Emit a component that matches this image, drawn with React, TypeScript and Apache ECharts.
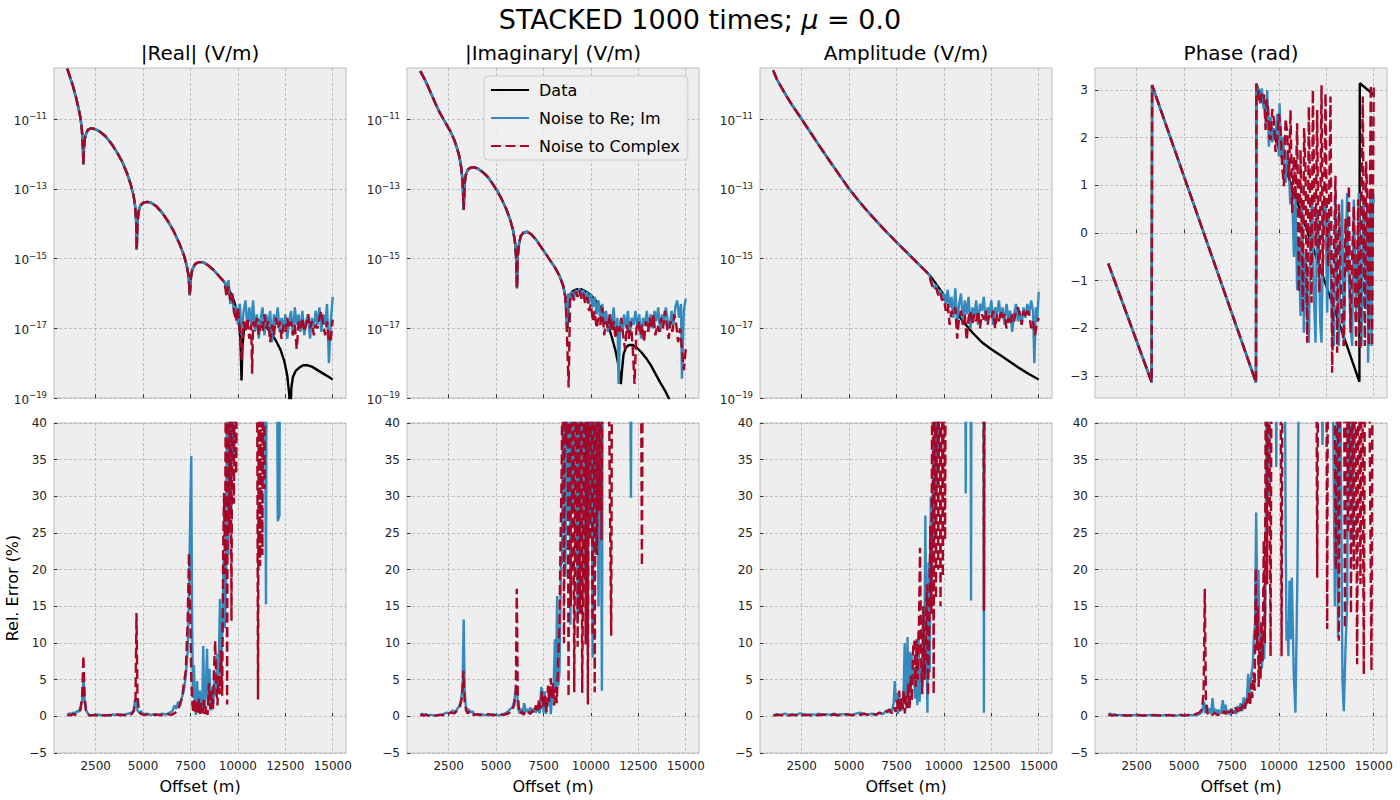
import React, { useEffect, useRef } from "react";
import * as echarts from "echarts";

type Pt = [number, number];

// ---------- texts ----------
const suptitleMain = "STACKED 1000 times; ";
const suptitleMu = "μ";
const suptitleTail = " = 0.0";
const panelTitles = ["|Real| (V/m)", "|Imaginary| (V/m)", "Amplitude (V/m)", "Phase (rad)"];
const seriesNames = ["Data", "Noise to Re; Im", "Noise to Complex"];
const offsetLabel = "Offset (m)";
const errorLabel = "Rel. Error (%)";

// ---------- ticks ----------
const offsetTicks = [2500, 5000, 7500, 10000, 12500, 15000];
const logTicks = [-19, -17, -15, -13, -11]; // log10 of V/m
const phaseTicks = [-3, -2, -1, 0, 1, 2, 3];
const errorTicks = [-5, 0, 5, 10, 15, 20, 25, 30, 35, 40];

// ---------- |Real| (log10 V/m) ----------
const realSmoothLog: Pt[] = [
  [1000, -9.55], [1150, -9.8], [1300, -10.05], [1450, -10.35], [1600, -10.7], [1700, -10.98],
  [1770, -11.3], [1820, -11.75], [1850, -12.3], [1880, -11.85], [1930, -11.55], [2000, -11.4],
  [2100, -11.3], [2250, -11.26], [2450, -11.28], [2700, -11.35], [3000, -11.48], [3300, -11.68],
  [3600, -11.93], [3900, -12.22], [4150, -12.55], [4350, -12.88], [4500, -13.2], [4580, -13.5],
  [4630, -13.9], [4665, -14.75], [4700, -14.0], [4760, -13.65], [4850, -13.48], [5000, -13.4],
  [5200, -13.37], [5400, -13.39], [5700, -13.5], [6000, -13.68], [6300, -13.92], [6600, -14.2],
  [6900, -14.55], [7150, -14.9], [7300, -15.2], [7400, -15.5], [7460, -16.05], [7520, -15.55],
  [7600, -15.3], [7750, -15.15], [7950, -15.1], [8150, -15.1], [8400, -15.18], [8700, -15.32],
  [9000, -15.5], [9250, -15.65],
];
const realDataTailLog: Pt[] = [
  [9500, -15.85], [9750, -16.15], [9900, -16.4], [10050, -16.8], [10130, -17.3], [10190, -18.5],
  [10240, -17.5], [10320, -17.05], [10450, -16.85], [10600, -16.76], [10800, -16.72], [11000, -16.75],
  [11250, -16.82], [11500, -16.95], [11750, -17.15], [12000, -17.35], [12250, -17.62], [12450, -17.95],
  [12600, -18.35], [12700, -18.85], [12760, -19.6], [12820, -18.7], [12900, -18.4], [13050, -18.22],
  [13250, -18.12], [13450, -18.06], [13650, -18.06], [13900, -18.1], [14200, -18.2], [14500, -18.3],
  [14800, -18.4], [15000, -18.47],
];
const realBlueTailLog: Pt[] = [
  [9300, -15.66], [9400, -15.9], [9500, -15.62], [9600, -16.3], [9700, -16.05], [9800, -16.6],
  [9900, -16.35], [10000, -16.9], [10100, -16.3], [10200, -17.2], [10300, -16.5], [10400, -16.2],
  [10500, -17.0], [10600, -16.4], [10700, -16.9], [10800, -16.2], [10900, -17.1], [11000, -16.6],
  [11100, -17.3], [11200, -16.7], [11300, -16.4], [11400, -17.2], [11500, -16.6], [11600, -17.0],
  [11700, -16.5], [11800, -17.4], [11900, -16.6], [12000, -16.9], [12100, -16.4], [12200, -17.1],
  [12300, -16.7], [12400, -17.0], [12500, -16.6], [12600, -17.3], [12700, -16.8], [12800, -16.5],
  [12900, -17.2], [13000, -16.4], [13100, -16.9], [13200, -16.6], [13300, -17.1], [13400, -16.5],
  [13500, -17.2], [13600, -16.8], [13700, -16.6], [13800, -17.3], [13900, -16.7], [14000, -17.0],
  [14100, -16.5], [14200, -16.9], [14300, -16.4], [14400, -17.1], [14500, -16.6], [14600, -16.9],
  [14700, -16.3], [14800, -18.0], [14900, -16.8], [15000, -16.1],
];
const realRedTailLog: Pt[] = [
  [9300, -15.7], [9400, -16.1], [9500, -15.8], [9600, -16.2], [9700, -16.0], [9800, -16.5],
  [9900, -16.8], [10000, -16.4], [10100, -17.0], [10200, -17.9], [10300, -16.8], [10400, -17.1],
  [10500, -16.7], [10600, -17.3], [10700, -16.9], [10750, -18.3], [10800, -16.8], [10900, -17.0],
  [11000, -16.7], [11100, -17.2], [11200, -16.9], [11300, -17.1], [11400, -16.6], [11500, -17.0],
  [11600, -16.8], [11700, -17.4], [11800, -16.9], [11900, -17.2], [12000, -16.7], [12100, -17.0],
  [12200, -16.8], [12300, -17.3], [12400, -16.9], [12500, -17.1], [12600, -16.7], [12700, -17.0],
  [12800, -16.8], [12900, -17.2], [13000, -16.9], [13100, -17.6], [13200, -16.8], [13300, -17.0],
  [13400, -16.7], [13500, -17.1], [13600, -16.9], [13700, -16.6], [13800, -17.0], [13900, -16.8],
  [14000, -17.2], [14100, -16.9], [14200, -17.0], [14300, -16.7], [14400, -16.5], [14500, -16.9],
  [14600, -17.2], [14700, -16.8], [14800, -17.4], [14900, -17.3], [15000, -16.75],
];

// ---------- |Imaginary| (log10 V/m) ----------
const imagSmoothLog: Pt[] = [
  [1000, -9.62], [1200, -9.82], [1400, -10.05], [1600, -10.3], [1800, -10.55], [2000, -10.78],
  [2200, -10.98], [2400, -11.17], [2600, -11.36], [2800, -11.6], [2950, -11.85], [3050, -12.05],
  [3150, -12.35], [3230, -12.75], [3290, -13.6], [3340, -12.85], [3400, -12.6], [3500, -12.45],
  [3650, -12.39], [3850, -12.38], [4050, -12.42], [4300, -12.52], [4550, -12.65], [4800, -12.84],
  [5050, -13.05], [5300, -13.3], [5550, -13.6], [5750, -13.9], [5900, -14.2], [6000, -14.55],
  [6060, -15.0], [6100, -15.85], [6140, -14.95], [6200, -14.6], [6300, -14.35], [6450, -14.25],
  [6650, -14.23], [6850, -14.3], [7100, -14.45], [7350, -14.65], [7600, -14.85], [7850, -15.05],
  [8100, -15.25], [8350, -15.5], [8550, -15.8], [8650, -16.1],
];
const imagDataTailLog: Pt[] = [
  [8700, -16.5], [8760, -17.0], [8810, -16.4], [8900, -16.05], [9050, -15.93], [9250, -15.88],
  [9500, -15.88], [9750, -15.95], [10000, -16.05], [10250, -16.2], [10500, -16.4], [10700, -16.6],
  [10900, -16.9], [11100, -17.25], [11300, -17.65], [11450, -18.05], [11580, -18.6], [11640, -18.2],
  [11720, -17.75], [11850, -17.55], [12000, -17.48], [12200, -17.48], [12400, -17.55], [12650, -17.68],
  [12900, -17.85], [13150, -18.05], [13400, -18.3], [13650, -18.55], [13900, -18.78], [14100, -19.0],
  [14300, -19.3], [14600, -19.7], [15000, -20.3],
];
const imagBlueTailLog: Pt[] = [
  [8700, -16.3], [8740, -16.92], [8800, -16.0], [8900, -16.2], [9000, -15.95], [9100, -16.15],
  [9200, -15.9], [9300, -16.0], [9400, -15.85], [9500, -16.1], [9600, -15.9], [9700, -16.2],
  [9800, -15.95], [9900, -16.3], [10000, -16.0], [10100, -16.4], [10200, -16.1], [10300, -16.6],
  [10400, -16.2], [10500, -16.8], [10600, -16.3], [10700, -16.9], [10800, -16.5], [10900, -17.1],
  [11000, -16.6], [11100, -16.9], [11200, -16.4], [11300, -17.2], [11400, -16.7], [11460, -18.6],
  [11550, -16.8], [11650, -17.1], [11750, -16.6], [11850, -17.0], [11950, -16.5], [12050, -17.2],
  [12150, -16.7], [12250, -16.9], [12350, -16.5], [12450, -17.0], [12550, -16.6], [12650, -17.3],
  [12750, -16.7], [12850, -16.9], [12950, -16.5], [13050, -17.1], [13150, -16.6], [13250, -17.0],
  [13350, -16.5], [13450, -16.8], [13550, -16.4], [13650, -17.1], [13750, -16.6], [13850, -16.9],
  [13950, -16.4], [14050, -16.8], [14150, -17.0], [14250, -16.5], [14350, -16.9], [14450, -16.4],
  [14550, -16.2], [14650, -16.7], [14750, -16.3], [14800, -18.45], [14900, -16.5], [15000, -16.15],
];
const imagRedTailLog: Pt[] = [
  [8700, -16.6], [8825, -18.7], [8900, -16.2], [9000, -16.0], [9100, -16.2], [9200, -15.95],
  [9300, -16.1], [9400, -15.9], [9500, -16.15], [9600, -16.0], [9700, -16.3], [9800, -16.1],
  [9900, -16.5], [10000, -16.3], [10100, -16.8], [10200, -16.5], [10300, -17.0], [10400, -16.7],
  [10500, -16.9], [10600, -16.4], [10700, -17.2], [10800, -16.8], [10900, -17.0], [11000, -16.6],
  [11100, -17.1], [11200, -16.8], [11300, -17.3], [11400, -16.9], [11500, -17.1], [11600, -16.7],
  [11700, -17.2], [11800, -17.6], [11900, -16.9], [12000, -17.3], [12100, -16.8], [12200, -17.5],
  [12300, -18.6], [12400, -17.0], [12500, -16.8], [12600, -17.2], [12700, -16.9], [12800, -17.4],
  [12900, -16.8], [13000, -17.1], [13100, -16.7], [13200, -17.0], [13300, -16.6], [13400, -17.2],
  [13500, -16.9], [13600, -17.1], [13700, -16.7], [13800, -17.0], [13900, -16.5], [14000, -16.9],
  [14100, -17.3], [14200, -16.8], [14300, -17.1], [14400, -16.6], [14500, -16.9], [14600, -17.4],
  [14700, -17.0], [14800, -17.6], [14900, -18.2], [15000, -17.6],
];

// ---------- Amplitude (log10 V/m) ----------
const ampSmoothLog: Pt[] = [
  [1000, -9.6], [1100, -9.74], [1200, -9.86], [1400, -10.06], [1700, -10.34], [2000, -10.6],
  [2500, -11.0], [3000, -11.41], [3500, -11.82], [4000, -12.22], [4500, -12.61], [5000, -13.0],
  [5500, -13.34], [6000, -13.66], [6500, -13.96], [7000, -14.25], [7500, -14.53], [8000, -14.8],
  [8500, -15.07], [9000, -15.34], [9250, -15.48],
];
const ampDataTailLog: Pt[] = [
  [9500, -15.66], [10000, -16.04], [10500, -16.43], [11000, -16.8], [11500, -17.12], [12000, -17.4],
  [12500, -17.6], [13000, -17.78], [13500, -17.97], [14000, -18.15], [14500, -18.32], [15000, -18.47],
];
const ampBlueTailLog: Pt[] = [
  [9300, -15.6], [9400, -15.75], [9500, -15.85], [9600, -15.75], [9700, -16.0], [9800, -15.9],
  [9900, -16.1], [10000, -16.0], [10100, -16.3], [10200, -15.9], [10300, -16.4], [10400, -16.1],
  [10500, -16.7], [10600, -15.85], [10700, -16.9], [10800, -16.3], [10900, -16.0], [11000, -16.8],
  [11100, -16.2], [11200, -16.6], [11300, -16.1], [11400, -17.0], [11500, -16.4], [11600, -16.7],
  [11700, -16.2], [11800, -16.9], [11900, -16.3], [12000, -16.5], [12100, -16.1], [12200, -16.8],
  [12300, -16.4], [12400, -16.6], [12500, -16.2], [12600, -16.9], [12700, -16.4], [12800, -16.6],
  [12900, -16.2], [13000, -16.7], [13100, -16.4], [13200, -16.9], [13300, -16.3], [13400, -16.7],
  [13500, -16.5], [13600, -17.1], [13700, -16.6], [13800, -16.3], [13900, -16.8], [14000, -16.5],
  [14100, -16.9], [14200, -16.4], [14300, -16.7], [14400, -16.3], [14500, -16.6], [14600, -16.2],
  [14700, -16.5], [14770, -18.0], [14850, -16.4], [14920, -16.8], [15000, -15.95],
];
const ampRedTailLog: Pt[] = [
  [9300, -15.65], [9400, -15.8], [9500, -15.9], [9600, -15.85], [9700, -16.05], [9800, -15.95],
  [9900, -16.2], [10000, -16.15], [10100, -16.5], [10200, -16.3], [10300, -16.9], [10400, -16.5],
  [10500, -16.6], [10600, -16.4], [10700, -17.3], [10800, -16.7], [10900, -16.5], [11000, -16.9],
  [11100, -16.6], [11200, -17.35], [11300, -16.7], [11400, -16.5], [11500, -16.9], [11600, -16.6],
  [11700, -16.8], [11800, -16.5], [11900, -17.0], [12000, -16.6], [12100, -16.75], [12200, -16.5],
  [12300, -16.9], [12400, -16.6], [12500, -16.7], [12600, -16.5], [12700, -17.0], [12800, -16.6],
  [12900, -16.8], [13000, -16.5], [13100, -16.7], [13200, -16.6], [13300, -17.0], [13400, -16.7],
  [13500, -16.9], [13600, -16.6], [13700, -16.8], [13800, -16.5], [13900, -16.4], [14000, -16.6],
  [14100, -16.9], [14200, -16.5], [14300, -16.7], [14400, -16.5], [14500, -16.6], [14600, -17.0],
  [14700, -16.8], [14800, -17.2], [14900, -16.9], [15000, -16.7],
];

// ---------- Phase (rad) ----------
const phaseSmooth: Pt[] = [
  [1000, -0.64], [3290, -3.13], [3310, 3.1], [8790, -3.13], [8810, 3.13],
];
const phaseDataTail: Pt[] = [
  [14245, -3.12], [14265, 3.14], [15000, 2.9],
];
const phaseBlueTail: Pt[] = [
  [8900, 3.0], [9000, 2.8], [9100, 3.03], [9200, 2.6], [9260, 2.72], [9330, 2.2], [9383, 3.0],
  [9470, 1.81], [9560, 2.44], [9650, 1.9], [9735, 2.2], [9820, 2.0], [9910, 2.5], [10000, 1.6],
  [10033, 2.72], [10120, 1.6], [10225, 2.02], [10300, 1.2], [10350, 1.05], [10450, 1.7], [10525, 1.3],
  [10600, 0.6], [10700, 0.84], [10790, -0.5], [10876, 0.77], [10960, -1.2], [11050, -0.28],
  [11140, -1.74], [11228, 0.56], [11315, -2.09], [11403, -0.42], [11490, -1.6], [11578, -2.3],
  [11665, 0.2], [11754, 0.7], [11842, -1.25], [11930, -2.3], [12018, 0.5], [12105, -0.28],
  [12180, -1.9], [12246, -2.3], [12350, 0.6], [12457, 0.7], [12545, -1.67], [12630, 0.3],
  [12720, -0.63], [12808, -2.1], [12896, -2.37], [12984, 0.84], [13072, -0.9], [13160, -2.37],
  [13250, -0.4], [13335, 0.7], [13423, -2.37], [13510, -0.6], [13599, 0.84], [13686, -0.91],
  [13774, -1.9], [13862, -2.37], [13950, 0.7], [14010, -0.5], [14072, -1.67], [14140, -0.8],
  [14213, 0.84], [14290, -1.0], [14353, -2.37], [14420, -0.3], [14476, 0.7], [14540, -0.5],
  [14599, -1.6], [14650, 0.5], [14705, -2.72], [14775, -0.14], [14830, 0.8], [14880, -2.37],
  [14940, -0.2], [14968, 0.84], [15000, 0.63],
];
const phaseRedTail: Pt[] = [
  [8900, 2.96], [9000, 2.7], [9100, 2.95], [9208, 2.93], [9296, 2.16], [9360, 2.8], [9436, 2.58],
  [9500, 2.0], [9560, 1.95], [9650, 2.6], [9735, 2.37], [9820, 1.7], [9910, 1.92], [10000, 2.5],
  [10086, 2.23], [10170, 1.4], [10260, 0.98], [10350, 2.4], [10437, 2.09], [10530, 1.1], [10612, 2.58],
  [10700, 0.42], [10790, 1.6], [10876, 0.7], [10960, 2.3], [11051, -1.25], [11140, 1.74], [11200, 0.2],
  [11262, -1.67], [11330, 2.2], [11403, 1.32], [11490, -2.3], [11578, 2.65], [11650, 0.4],
  [11720, -1.46], [11789, 3.0], [11860, 0.9], [11930, -0.28], [12018, 2.58], [12080, -0.6],
  [12141, -1.25], [12246, 3.1], [12310, -0.9], [12370, 0.14], [12457, 2.93], [12530, 0.2],
  [12597, -0.7], [12720, 2.86], [12808, -2.93], [12896, -0.56], [12980, 1.2], [13072, -2.51],
  [13160, 0.6], [13247, -0.91], [13340, -2.0], [13423, -2.37], [13510, 0.3], [13599, -0.84],
  [13690, 1.0], [13774, -2.09], [13860, -0.5], [13950, 0.56], [14010, -1.2], [14072, -2.37],
  [14178, 0.7], [14240, -1.5], [14300, -2.44], [14360, 0.9], [14423, 2.86], [14480, -0.5],
  [14529, -2.37], [14600, 1.5], [14652, 0.84], [14700, -1.2], [14740, -2.37], [14800, 1.0],
  [14845, 3.1], [14880, -0.4], [14915, -2.37], [14960, 0.8], [15000, 3.07],
];

// ---------- relative errors (%) ----------
const realErrBlue: Pt[] = [
  [1000, 0.2], [1100, 0.4], [1200, 0.3], [1300, 0.5], [1400, 0.4], [1500, 0.7], [1600, 0.6],
  [1700, 1.3], [1780, 2.0], [1860, 5.1], [1920, 1.8], [2000, 0.8], [2100, 0.3], [2200, 0.2],
  [2400, 0.15], [2600, 0.25], [2800, 0.15], [3000, 0.2], [3200, 0.1], [3400, 0.25], [3600, 0.2],
  [3800, 0.3], [4000, 0.2], [4200, 0.35], [4400, 0.5], [4500, 0.8], [4580, 2.3], [4640, 2.5],
  [4700, 0.8], [4800, 0.5], [4900, 0.7], [5000, 0.3], [5200, 0.35], [5400, 0.2], [5600, 0.3],
  [5800, 0.2], [6000, 0.35], [6200, 0.25], [6400, 0.5], [6550, 0.7], [6650, 1.5], [6750, 1.0],
  [6850, 2.0], [6950, 1.4], [7050, 2.6], [7150, 3.5], [7250, 5.5], [7350, 9], [7430, 18],
  [7500, 30], [7540, 35.5], [7580, 14], [7630, 2.5], [7680, 7.0], [7740, 1.0], [7790, 0.2],
  [7850, 4.8], [7920, 1.0], [7990, 3.5], [8050, 0.8], [8120, 1.5], [8170, 9.6], [8230, 1.0],
  [8300, 3.0], [8370, 9.2], [8430, 1.4], [8500, 6.5], [8570, 0.8], [8640, 4.0], [8700, 1.7],
  [8780, 6.0], [8850, 2.8], [8920, 8.5], [8980, 5.0], [9050, 16.0], [9110, 5.8], [9180, 12.0],
  [9250, 22.0], [9310, 12], [9380, 19], [9440, 60], [9500, 22], [9570, 60], [9640, 28],
  [9700, 60], [9780, 35], [9850, 60], [9920, 70], [10300, 80], [10600, 70], [10900, 80],
  [11100, 60], [11300, 70], [11430, 45], [11480, 15.3], [11520, 60], [11800, 80], [12050, 60],
  [12100, 26.6], [12190, 27.4], [12230, 70], [12600, 80], [13000, 70], [13500, 80], [14000, 70],
  [14500, 80], [15000, 70],
];
const realErrRed: Pt[] = [
  [1000, 0.1], [1100, 0.2], [1200, 0.15], [1300, 0.3], [1400, 0.2], [1500, 0.4], [1600, 0.5],
  [1700, 0.9], [1790, 3.0], [1850, 8.3], [1900, 3.5], [1980, 0.8], [2080, 0.2], [2200, 0.1],
  [2400, 0.2], [2600, 0.1], [2800, 0.2], [3000, 0.1], [3200, 0.2], [3400, 0.1], [3600, 0.25],
  [3800, 0.15], [4000, 0.2], [4200, 0.1], [4400, 0.3], [4520, 0.8], [4600, 2.5], [4650, 14.1],
  [4700, 3.0], [4780, 0.6], [4900, 0.3], [5100, 0.2], [5300, 0.3], [5500, 0.2], [5700, 0.25],
  [5900, 0.15], [6100, 0.2], [6300, 0.3], [6500, 0.2], [6700, 0.5], [6850, 0.9], [6950, 1.8],
  [7050, 2.5], [7150, 4.5], [7250, 6.2], [7350, 13], [7420, 22.3], [7480, 15], [7540, 5],
  [7600, 1.6], [7650, 0.5], [7710, 2.4], [7770, 0.3], [7830, 2.2], [7890, 0.5], [7950, 2.4],
  [8010, 0.2], [8070, 1.8], [8140, 0.4], [8200, 2.2], [8260, 0.3], [8330, 1.4], [8400, 0.2],
  [8470, 4.5], [8540, 1.0], [8610, 3.5], [8680, 0.8], [8740, 6.5], [8800, 10.3], [8860, 4.0],
  [8920, 1.5], [8980, 5.5], [9040, 3.0], [9100, 9.0], [9170, 2.8], [9230, 24], [9270, 30.5],
  [9320, 19.4], [9380, 60], [9430, 1.6], [9480, 60], [9540, 25], [9600, 55], [9660, 13],
  [9720, 60], [9790, 29], [9850, 70], [9910, 33], [9970, 60], [10200, 80], [10500, 70],
  [10800, 80], [11000, 60], [11060, 2.3], [11110, 60], [11170, 20.5], [11230, 60], [11290, 22],
  [11350, 60], [11400, 31], [11450, 70], [12000, 80], [12500, 70], [13000, 80], [13500, 70],
  [14000, 80], [14500, 70], [15000, 80],
];
const imagErrBlue: Pt[] = [
  [1000, 0.2], [1100, 0.35], [1200, 0.2], [1300, 0.3], [1400, 0.15], [1600, 0.2], [1800, 0.1],
  [2000, 0.2], [2200, 0.3], [2400, 0.5], [2550, 0.4], [2700, 0.8], [2850, 0.6], [2950, 1.0],
  [3050, 1.4], [3150, 2.2], [3230, 4.0], [3290, 13.2], [3340, 3.5], [3400, 1.4], [3480, 0.8],
  [3560, 1.0], [3650, 0.5], [3750, 0.7], [3850, 0.3], [4000, 0.2], [4200, 0.3], [4400, 0.2],
  [4600, 0.15], [4800, 0.3], [5000, 0.2], [5200, 0.15], [5400, 0.3], [5550, 0.5], [5700, 0.9],
  [5850, 1.2], [5950, 2.0], [6050, 4.0], [6100, 3.8], [6150, 1.2], [6230, 0.4], [6320, 1.0],
  [6400, 0.5], [6480, 1.8], [6560, 0.6], [6640, 1.0], [6720, 0.4], [6800, 1.2], [6900, 0.8],
  [7000, 1.0], [7100, 0.5], [7200, 1.2], [7300, 0.4], [7380, 4.0], [7440, 3.2], [7500, 0.5],
  [7560, 3.4], [7630, 0.3], [7700, 2.5], [7770, 1.4], [7830, 3.6], [7880, 0.3], [7950, 2.5],
  [8030, 3.5], [8100, 10.5], [8150, 3.5], [8220, 16.4], [8280, 4.2], [8340, 6.0], [8420, 20.7],
  [8480, 21], [8540, 60], [8600, 55], [8660, 19], [8720, 60], [8780, 28], [8840, 60],
  [8920, 12.5], [8980, 60], [9040, 28.5], [9100, 60], [9170, 21], [9230, 60], [9300, 13],
  [9370, 60], [9440, 24], [9500, 60], [9570, 16], [9640, 60], [9700, 18.5], [9770, 60],
  [9840, 11], [9900, 60], [9960, 26], [10030, 60], [10090, 8], [10150, 60], [10260, 22],
  [10320, 60], [10400, 15], [10480, 60], [10580, 3.5], [10640, 70], [11000, 80], [11500, 70],
  [12000, 80], [12110, 29.8], [12170, 70], [12500, 80], [13000, 70], [13500, 80], [14000, 70],
  [14500, 80], [15000, 70],
];
const imagErrRed: Pt[] = [
  [1000, 0.1], [1100, 0.2], [1200, 0.1], [1300, 0.2], [1400, 0.1], [1600, 0.15], [1800, 0.1],
  [2000, 0.2], [2200, 0.15], [2400, 0.3], [2600, 0.5], [2800, 0.4], [2950, 0.8], [3100, 1.4],
  [3200, 2.6], [3280, 6.2], [3340, 2.0], [3420, 0.8], [3500, 0.4], [3600, 0.7], [3700, 0.3],
  [3850, 0.2], [4000, 0.3], [4200, 0.15], [4400, 0.2], [4600, 0.3], [4800, 0.15], [5000, 0.2],
  [5200, 0.3], [5400, 0.2], [5600, 0.35], [5800, 0.6], [5950, 1.5], [6040, 3.5], [6090, 17.4],
  [6140, 3.0], [6200, 1.2], [6280, 0.3], [6360, 0.7], [6440, 0.2], [6520, 0.5], [6600, 0.4],
  [6700, 0.7], [6800, 0.3], [6900, 0.8], [7000, 0.4], [7100, 1.5], [7180, 0.5], [7260, 2.3],
  [7340, 1.0], [7420, 3.4], [7500, 1.2], [7580, 2.8], [7660, 0.6], [7740, 4.2], [7800, 2.0],
  [7880, 5.2], [7940, 2.5], [8000, 4.5], [8060, 1.5], [8140, 4.0], [8200, 1.8], [8280, 8],
  [8340, 12.5], [8400, 24], [8460, 34], [8520, 60], [8580, 10], [8640, 60], [8700, 37],
  [8760, 60], [8820, 2.6], [8880, 60], [8940, 15], [9000, 24], [9060, 60], [9120, 3.3],
  [9180, 33], [9240, 60], [9300, 9.5], [9360, 60], [9420, 14], [9480, 60], [9540, 3.2],
  [9600, 24], [9660, 60], [9720, 9.8], [9780, 60], [9840, 1.6], [9900, 60], [9960, 24],
  [10020, 60], [10080, 11], [10140, 60], [10200, 3.3], [10260, 60], [10320, 22], [10380, 60],
  [10440, 28], [10500, 60], [10560, 24], [10620, 70], [10900, 60], [11000, 30], [11070, 11],
  [11130, 70], [11600, 80], [12100, 70], [12600, 70], [12690, 20.5], [12760, 70], [13200, 80],
  [13700, 70], [14200, 80], [14700, 70], [15000, 80],
];
const ampErrBlue: Pt[] = [
  [1000, 0.15], [1200, 0.3], [1400, 0.2], [1600, 0.35], [1800, 0.2], [2000, 0.3], [2200, 0.2],
  [2400, 0.4], [2600, 0.3], [2800, 0.2], [3000, 0.3], [3200, 0.2], [3400, 0.35], [3600, 0.2],
  [3800, 0.3], [4000, 0.2], [4200, 0.35], [4400, 0.2], [4600, 0.3], [4800, 0.25], [5000, 0.3],
  [5200, 0.2], [5400, 0.4], [5600, 0.5], [5800, 0.3], [6000, 0.25], [6200, 0.35], [6400, 0.2],
  [6600, 0.5], [6800, 0.3], [6950, 0.8], [7050, 0.5], [7150, 1.0], [7250, 0.6], [7350, 1.8],
  [7410, 4.8], [7460, 2.0], [7520, 3.2], [7570, 0.3], [7630, 2.8], [7700, 1.2], [7760, 2.0],
  [7820, 0.8], [7880, 4.0], [7930, 10.0], [7980, 3.0], [8030, 1.0], [8080, 10.8], [8130, 2.0],
  [8180, 8.8], [8240, 3.3], [8290, 8.6], [8350, 4.2], [8420, 6.7], [8480, 2.4], [8540, 6.6],
  [8600, 1.5], [8660, 11.5], [8720, 2.0], [8780, 7.5], [8840, 3.5], [8900, 15], [8960, 5.0],
  [9020, 27.4], [9080, 10], [9130, 0.5], [9190, 21], [9250, 6], [9310, 30], [9370, 18],
  [9430, 37], [9490, 24], [9550, 60], [9610, 30], [9670, 60], [9730, 36], [9790, 70],
  [10200, 80], [10600, 70], [11100, 70], [11150, 30.4], [11200, 70], [11400, 60], [11430, 15.8],
  [11470, 70], [11900, 80], [12080, 60], [12110, 0.5], [12150, 60], [12600, 80], [13000, 70],
  [13500, 80], [14000, 70], [14500, 80], [15000, 70],
];
const ampErrRed: Pt[] = [
  [1000, 0.1], [1200, 0.2], [1400, 0.15], [1600, 0.2], [1800, 0.1], [2000, 0.2], [2200, 0.15],
  [2400, 0.25], [2600, 0.15], [2800, 0.2], [3000, 0.1], [3200, 0.2], [3400, 0.15], [3600, 0.25],
  [3800, 0.2], [4000, 0.15], [4200, 0.25], [4400, 0.15], [4600, 0.2], [4800, 0.3], [5000, 0.2],
  [5200, 0.15], [5400, 0.3], [5600, 0.2], [5800, 0.35], [6000, 0.2], [6200, 0.4], [6400, 0.2],
  [6600, 0.5], [6800, 0.3], [6950, 0.6], [7100, 0.9], [7250, 0.4], [7380, 1.2], [7450, 0.6],
  [7520, 2.2], [7580, 0.8], [7640, 3.5], [7700, 0.6], [7760, 2.5], [7820, 1.0], [7880, 3.6],
  [7940, 0.4], [8000, 2.7], [8060, 1.2], [8120, 4.5], [8190, 1.0], [8250, 5.5], [8310, 2.0],
  [8380, 9.6], [8440, 10.3], [8500, 4.0], [8560, 10.5], [8620, 5.0], [8680, 12], [8740, 23],
  [8800, 8.0], [8860, 3.0], [8920, 15], [8980, 5.0], [9040, 10], [9100, 18], [9160, 2.8],
  [9220, 11], [9280, 26], [9340, 14], [9400, 60], [9460, 3.0], [9520, 60], [9580, 16],
  [9640, 60], [9700, 20], [9760, 60], [9820, 15], [9880, 60], [9940, 19], [10000, 60],
  [10060, 24], [10120, 70], [10600, 80], [11000, 70], [11500, 80], [12080, 70], [12110, 14.4],
  [12150, 70], [12600, 80], [13000, 70], [13500, 80], [14000, 70], [14500, 80], [15000, 70],
];
const phaseErrBlue: Pt[] = [
  [1000, 0.2], [1100, 0.4], [1200, 0.2], [1300, 0.3], [1400, 0.1], [1600, 0.2], [1800, 0.1],
  [2000, 0.15], [2200, 0.1], [2400, 0.2], [2600, 0.1], [2800, 0.15], [3000, 0.1], [3200, 0.2],
  [3400, 0.1], [3600, 0.15], [3800, 0.1], [4000, 0.2], [4200, 0.1], [4400, 0.15], [4600, 0.1],
  [4800, 0.2], [5000, 0.15], [5200, 0.1], [5400, 0.2], [5600, 0.15], [5800, 0.3], [5950, 0.6],
  [6050, 2.0], [6120, 0.4], [6200, 1.5], [6270, 0.5], [6350, 1.1], [6420, 0.3], [6500, 2.5],
  [6560, 0.6], [6640, 1.0], [6720, 0.4], [6800, 0.9], [6880, 0.3], [6960, 0.8], [7040, 2.2],
  [7100, 0.5], [7180, 1.6], [7260, 0.3], [7340, 0.9], [7420, 0.2], [7500, 1.1], [7580, 0.4],
  [7660, 0.8], [7740, 0.3], [7820, 1.4], [7900, 0.6], [7980, 1.8], [8060, 0.7], [8140, 2.6],
  [8220, 1.2], [8300, 1.8], [8380, 5.8], [8440, 3.0], [8500, 4.5], [8560, 6.0], [8620, 7.0],
  [8680, 11], [8740, 12.5], [8800, 27.8], [8860, 15], [8920, 20], [8980, 8.5], [9040, 12.8],
  [9100, 6.5], [9160, 10], [9220, 7.8], [9280, 14], [9340, 40], [9400, 60], [9460, 30],
  [9520, 60], [9580, 40], [9640, 70], [9800, 60], [9860, 34], [9920, 60], [10120, 80],
  [10300, 60], [10350, 27.5], [10400, 10.3], [10450, 13], [10500, 8.2], [10560, 18.5],
  [10620, 10.5], [10680, 18.9], [10780, 6.0], [10870, 0.5], [10980, 20], [11080, 60],
  [11500, 80], [12000, 70], [12200, 60], [12300, 37], [12400, 70], [12800, 60], [12950, 15],
  [13050, 40], [13120, 10.7], [13200, 60], [13280, 30], [13350, 5], [13420, 0.7], [13520, 10],
  [13600, 15.5], [13680, 60], [13750, 30], [13820, 60], [13900, 24], [13960, 70], [14400, 80],
  [15000, 70],
];
const phaseErrRed: Pt[] = [
  [1000, 0.1], [1100, 0.2], [1200, 0.1], [1400, 0.2], [1600, 0.1], [1800, 0.15], [2000, 0.1],
  [2200, 0.15], [2400, 0.1], [2600, 0.2], [2800, 0.1], [3000, 0.15], [3200, 0.1], [3400, 0.2],
  [3600, 0.1], [3800, 0.15], [4000, 0.1], [4200, 0.2], [4400, 0.1], [4600, 0.15], [4800, 0.2],
  [5000, 0.1], [5200, 0.2], [5400, 0.15], [5600, 0.3], [5800, 0.5], [5950, 1.0], [6030, 3.5],
  [6090, 17.4], [6150, 2.0], [6220, 0.5], [6300, 0.2], [6400, 0.4], [6500, 0.2], [6600, 0.5],
  [6700, 0.3], [6800, 0.15], [6900, 0.5], [7000, 0.3], [7100, 0.7], [7200, 0.3], [7300, 1.0],
  [7400, 0.5], [7500, 0.9], [7600, 0.4], [7700, 1.2], [7800, 0.6], [7900, 1.5], [8000, 0.8],
  [8100, 1.8], [8200, 1.0], [8280, 2.5], [8350, 1.8], [8420, 3.2], [8480, 1.5], [8540, 4.5],
  [8600, 2.5], [8660, 6.0], [8720, 3.5], [8780, 20.2], [8830, 9.0], [8880, 15], [8930, 4.0],
  [8980, 10], [9030, 5.0], [9080, 13], [9140, 7.5], [9200, 24], [9260, 10], [9320, 60],
  [9380, 18], [9440, 60], [9500, 40], [9560, 8.2], [9620, 60], [9800, 70], [10000, 80],
  [10080, 60], [10140, 8.2], [10200, 60], [11000, 80], [11800, 70], [11960, 60], [12020, 18.9],
  [12080, 60], [12480, 70], [12545, 11.9], [12600, 70], [12900, 60], [13000, 20], [13100, 60],
  [13160, 10.3], [13250, 70], [13420, 60], [13480, 12], [13560, 60], [13650, 25], [13720, 60],
  [13800, 14], [13860, 60], [13950, 20], [14020, 60], [14125, 7.1], [14200, 60], [14300, 18],
  [14380, 60], [14476, 5.7], [14550, 60], [14700, 70], [14880, 6.2], [14950, 60], [15000, 70],
];

// ---------- styling / layout ----------
const FONT = "DejaVu Sans";
const COLORS = ["#000000", "#348ABD", "#A60628"];
const colLefts = [54, 407, 760, 1095];
const rowTops = [68, 423];
const GRID_W = 292;
const GRID_H = 330;
const X_MIN = 300;
const X_MAX = 15700;

const minus = (v: number) => (v < 0 ? "\u2212" + Math.abs(v) : String(v));

function buildOption() {
  const grids: any[] = [];
  const xAxes: any[] = [];
  const yAxes: any[] = [];
  for (let row = 0; row < 2; row++) {
    for (let col = 0; col < 4; col++) {
      const i = row * 4 + col;
      grids.push({
        left: colLefts[col],
        top: rowTops[row],
        width: GRID_W,
        height: GRID_H,
        show: true,
        backgroundColor: "#eeeeee",
        borderColor: "#bcbcbc",
        borderWidth: 1,
      });
      xAxes.push({
        type: "value",
        gridIndex: i,
        min: X_MIN,
        max: X_MAX,
        axisLine: { show: false },
        axisTick: {
          show: true,
          inside: true,
          length: 3.5,
          customValues: offsetTicks,
          lineStyle: { color: "#333", width: 1 },
        },
        axisLabel: {
          show: row === 1,
          customValues: offsetTicks,
          formatter: (v: number) => String(v),
          fontSize: 12,
          fontFamily: FONT,
          color: "#222",
          margin: 7,
        },
        splitLine: { show: true, lineStyle: { color: "#b2b2b2", width: 0.8, type: [3, 2] } },
        name: row === 1 ? offsetLabel : "",
        nameLocation: "middle",
        nameGap: 25,
        nameTextStyle: { fontSize: 16, fontFamily: FONT, color: "#000" },
      });
      let y: any;
      if (row === 0 && col < 3) {
        y = {
          min: -19,
          max: -9.53,
          ticks: logTicks,
          formatter: (v: number) => `{b|10}{s|\u2212${Math.abs(v)}}`,
        };
      } else if (row === 0) {
        y = { min: -3.46, max: 3.46, ticks: phaseTicks, formatter: minus };
      } else {
        y = { min: -5, max: 40, ticks: errorTicks, formatter: minus };
      }
      yAxes.push({
        type: "value",
        gridIndex: i,
        min: y.min,
        max: y.max,
        axisLine: { show: false },
        axisTick: {
          show: true,
          inside: true,
          length: 3.5,
          customValues: y.ticks,
          lineStyle: { color: "#333", width: 1 },
        },
        axisLabel: {
          show: true,
          customValues: y.ticks,
          formatter: y.formatter,
          fontSize: 12,
          fontFamily: FONT,
          color: "#222",
          margin: 7,
          rich: {
            b: { fontSize: 12, fontFamily: FONT, color: "#222", lineHeight: 15, verticalAlign: "bottom" },
            s: { fontSize: 8.5, fontFamily: FONT, color: "#222", lineHeight: 15, verticalAlign: "top" },
          },
        },
        splitLine: { show: true, lineStyle: { color: "#b2b2b2", width: 0.8, type: [3, 2] } },
      });
    }
  }

  const line = (name: string, k: number, axis: number, data: Pt[]) => ({
    type: "line",
    name,
    xAxisIndex: axis,
    yAxisIndex: axis,
    data,
    symbol: "none",
    showSymbol: false,
    clip: true,
    silent: true,
    color: COLORS[k],
    itemStyle: { color: COLORS[k] },
    lineStyle: { color: COLORS[k], width: 2.4, type: k === 2 ? [10, 4.5] : "solid", cap: "butt" },
    emphasis: { disabled: true },
    z: 2 + k,
  });

  const topSets: [Pt[], Pt[], Pt[], Pt[]][] = [
    [realSmoothLog, realDataTailLog, realBlueTailLog, realRedTailLog],
    [imagSmoothLog, imagDataTailLog, imagBlueTailLog, imagRedTailLog],
    [ampSmoothLog, ampDataTailLog, ampBlueTailLog, ampRedTailLog],
    [phaseSmooth, phaseDataTail, phaseBlueTail, phaseRedTail],
  ];
  const errSets: [Pt[], Pt[]][] = [
    [realErrBlue, realErrRed],
    [imagErrBlue, imagErrRed],
    [ampErrBlue, ampErrRed],
    [phaseErrBlue, phaseErrRed],
  ];

  const series: any[] = [];
  topSets.forEach(([smooth, dataTail, blueTail, redTail], col) => {
    series.push(line(seriesNames[0], 0, col, [...smooth, ...dataTail]));
    series.push(line(seriesNames[1], 1, col, [...smooth, ...blueTail]));
    series.push(line(seriesNames[2], 2, col, [...smooth, ...redTail]));
  });
  errSets.forEach(([blue, red], col) => {
    series.push(line(seriesNames[1], 1, 4 + col, blue));
    series.push(line(seriesNames[2], 2, 4 + col, red));
  });

  const graphic: any[] = [
    {
      type: "text",
      x: 700,
      y: 19,
      style: {
        text: `{t|${suptitleMain}}{m|${suptitleMu}}{t|${suptitleTail}}`,
        align: "center",
        verticalAlign: "middle",
        textAlign: "center",
        textVerticalAlign: "middle",
        rich: {
          t: { fontSize: 27, fontFamily: FONT, fill: "#000", color: "#000" },
          m: { fontSize: 27, fontFamily: FONT, fontStyle: "italic", fill: "#000", color: "#000" },
        },
      },
    },
    ...panelTitles.map((t, col) => ({
      type: "text",
      x: colLefts[col] + GRID_W / 2,
      y: 53,
      style: {
        text: t,
        fontSize: 20,
        fontFamily: FONT,
        fill: "#000",
        align: "center",
        verticalAlign: "middle",
        textAlign: "center",
        textVerticalAlign: "middle",
      },
    })),
    {
      type: "text",
      x: 12,
      y: rowTops[1] + GRID_H / 2,
      rotation: Math.PI / 2,
      style: {
        text: errorLabel,
        fontSize: 16,
        fontFamily: FONT,
        fill: "#000",
        align: "center",
        verticalAlign: "middle",
        textAlign: "center",
        textVerticalAlign: "middle",
      },
    },
  ];

  return {
    animation: false,
    backgroundColor: "#ffffff",
    grid: grids,
    xAxis: xAxes,
    yAxis: yAxes,
    series,
    graphic,
    legend: {
      data: seriesNames,
      orient: "vertical",
      left: 484,
      top: 76,
      itemWidth: 38,
      itemHeight: 14,
      itemGap: 12,
      padding: [6, 8, 6, 6],
      backgroundColor: "rgba(238,238,238,0.85)",
      borderColor: "#cccccc",
      borderWidth: 1,
      borderRadius: 4,
      selectedMode: false,
      itemStyle: { opacity: 0, borderWidth: 0 },
      textStyle: { fontSize: 16, fontFamily: FONT, color: "#000", padding: [0, 0, 0, 5] },
    },
  };
}

export default function App() {
  const ref = useRef<HTMLDivElement>(null);
  useEffect(() => {
    if (!ref.current) return;
    const chart = echarts.init(ref.current, undefined, { renderer: "svg" });
    chart.setOption(buildOption() as any);
    return () => chart.dispose();
  }, []);
  return (
    <div
      ref={ref}
      style={{ position: "fixed", left: 0, top: 0, width: 1400, height: 800, background: "#ffffff" }}
    />
  );
}
